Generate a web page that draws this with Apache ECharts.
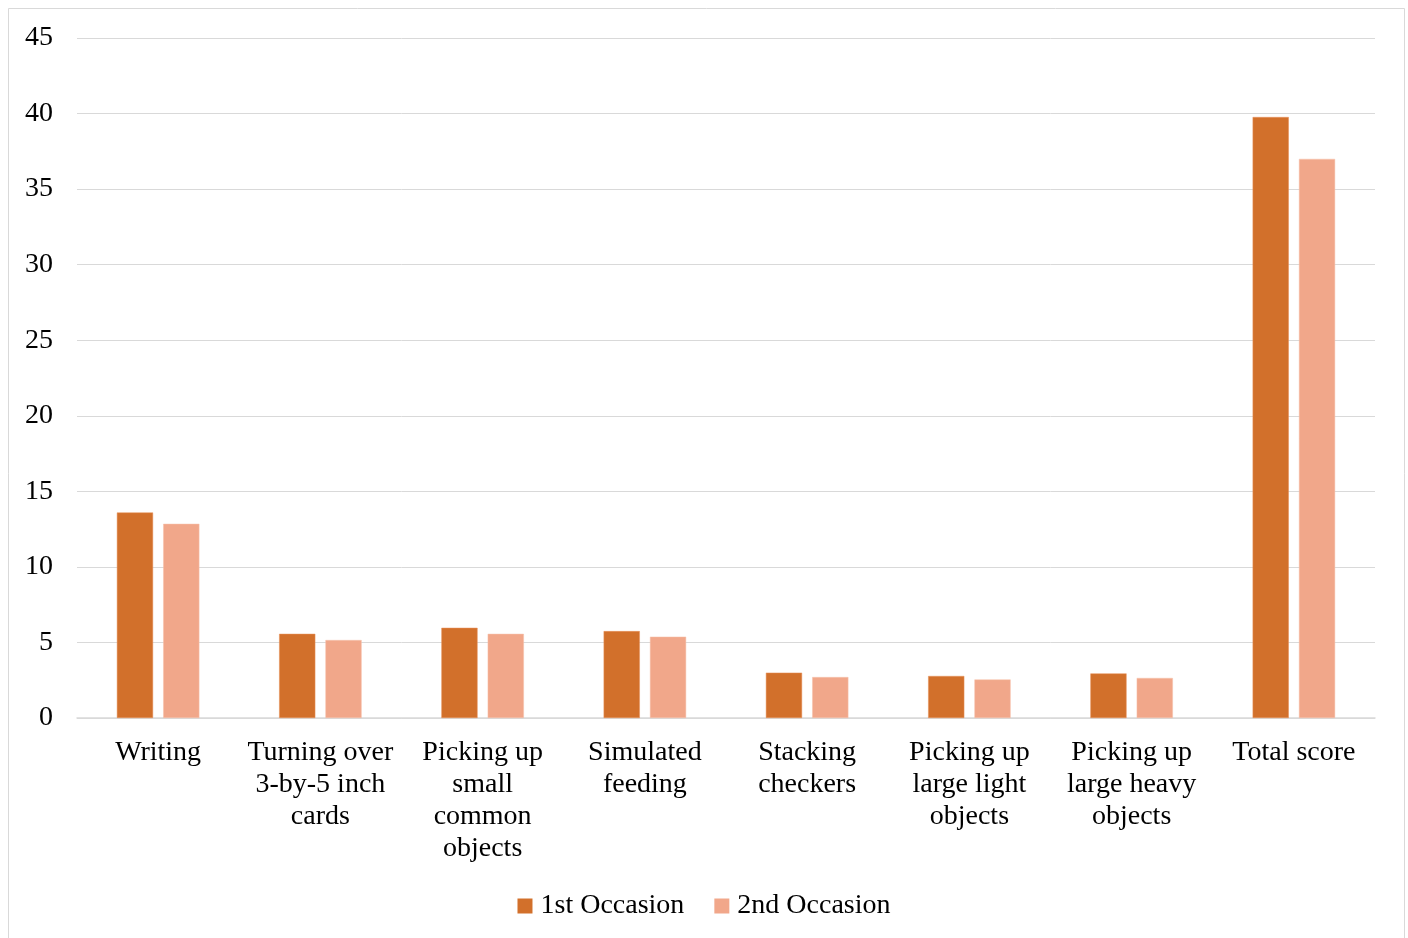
<!DOCTYPE html>
<html>
<head>
<meta charset="utf-8">
<script src="https://cdn.jsdelivr.net/npm/echarts@6/dist/echarts.min.js"></script>
<style>
  html, body { margin: 0; padding: 0; background: #fff; }
  #chart { width: 1408px; height: 938px; }
</style>
</head>
<body>
<div id="chart"></div>
<script>
const categories = [
  "Writing",
  "Turning over\n3-by-5 inch\ncards",
  "Picking up\nsmall\ncommon\nobjects",
  "Simulated\nfeeding",
  "Stacking\ncheckers",
  "Picking up\nlarge light\nobjects",
  "Picking up\nlarge heavy\nobjects",
  "Total score"
];
const seriesNames = ["1st Occasion", "2nd Occasion"];
const firstOccasion = [13.6, 5.57, 5.97, 5.75, 3.0, 2.78, 2.95, 39.77];
const secondOccasion = [12.85, 5.16, 5.57, 5.38, 2.71, 2.55, 2.65, 37.0];
const yTicks = { min: 0, max: 45, interval: 5 };

const FONT = "'Liberation Serif', 'Times New Roman', serif";
const chart = echarts.init(document.getElementById('chart'), null, { renderer: 'canvas' });

chart.setOption({
  backgroundColor: '#ffffff',
  animation: false,
  textStyle: { fontFamily: FONT },
  graphic: [{
    type: 'rect',
    shape: { x: 8.5, y: 8.5, width: 1396, height: 960 },
    style: { fill: 'none', stroke: '#d9d9d9', lineWidth: 1 },
    silent: true
  }],
  grid: { left: 77, right: 33, top: 38, bottom: 220, containLabel: false },
  legend: {
    bottom: 13,
    left: 'center',
    itemWidth: 15,
    itemHeight: 15,
    itemGap: 30,
    icon: 'rect',
    itemStyle: { borderWidth: 0 },
    textStyle: { fontFamily: FONT, fontSize: 28, color: '#000', padding: [0, 0, 0, 3] },
    data: seriesNames
  },
  xAxis: {
    type: 'category',
    data: categories,
    axisLine: { show: true, lineStyle: { color: '#d9d9d9', width: 1.5 } },
    axisTick: { show: false },
    axisLabel: {
      interval: 0,
      margin: 19,
      fontFamily: FONT,
      fontSize: 28,
      lineHeight: 32,
      color: '#000',
      align: 'center'
    }
  },
  yAxis: {
    type: 'value',
    min: yTicks.min,
    max: yTicks.max,
    interval: yTicks.interval,
    axisLine: { show: false },
    axisTick: { show: false },
    splitLine: { lineStyle: { color: '#d9d9d9', width: 1 } },
    axisLabel: { margin: 24, fontFamily: FONT, fontSize: 28, color: '#000', padding: [3, 0, 0, 0] }
  },
  series: [
    {
      name: seriesNames[0],
      type: 'bar',
      data: firstOccasion,
      barWidth: '22.3%',
      barGap: '28%',
      itemStyle: { color: '#D2702B', borderColor: '#E8905A', borderWidth: 0.5 }
    },
    {
      name: seriesNames[1],
      type: 'bar',
      data: secondOccasion,
      barWidth: '22.3%',
      itemStyle: { color: '#F1A78A', borderColor: '#F7C2AD', borderWidth: 0.5 }
    }
  ]
});
</script>
</body>
</html>
